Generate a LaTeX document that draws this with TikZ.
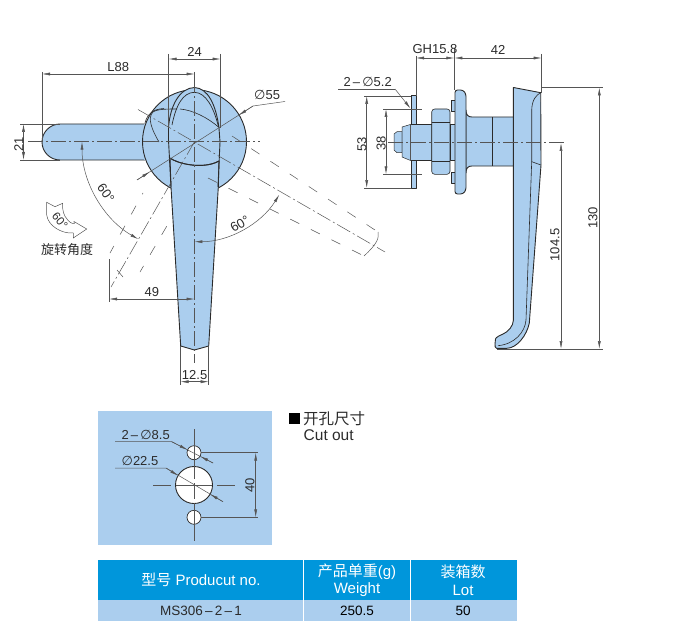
\documentclass[tikz,border=0pt]{standalone}
\usepackage{fontspec}
\setmainfont{Liberation Sans}
\newfontfamily\cjk{Noto Sans CJK SC}
\newfontfamily\symb{DejaVu Sans}
\usetikzlibrary{arrows.meta}
\usetikzlibrary{positioning}
\definecolor{steel}{HTML}{ABCEEE}
\definecolor{tablehead}{HTML}{0096DB}
\definecolor{ink}{HTML}{2B2B2B}
\tikzset{
  >={Latex[length=8pt,width=3pt]},
  outl/.style={draw=ink,line width=0.9pt,line join=round},
  thinln/.style={draw=ink!80,line width=0.5pt},
  cenln/.style={thinln,dash pattern=on 15pt off 3pt on 2pt off 3pt},
  dashln/.style={thinln,dash pattern=on 10pt off 13pt},
  dimln/.style={thinln},
  lab/.style={font=\fontsize{13}{13}\selectfont,text=ink,inner sep=0pt},
  cell/.style={font=\fontsize{15}{17.5}\selectfont,align=center,inner sep=0pt}
}
\begin{document}
\begin{tikzpicture}[x=1pt,y=-1pt]
  \path[use as bounding box] (0, 0) rectangle (700, 631);

  % front view
  \filldraw[outl,fill=steel] (145, 124) -- (60, 124) arc[start angle=270,end angle=90,radius=18] -- (145, 160);
  \fill[steel] (144, 124) rectangle (150, 160);
  \filldraw[outl,fill=steel] (194.5, 141.7) circle (52);
  \filldraw[outl,fill=steel] (170, 158) .. controls (180, 165) and (205, 169) .. (219, 161) -- (218.3, 187)
    -- (208.7, 346) -- (194.4, 350) -- (180.7, 346) -- (171, 187) -- cycle;
  \fill[steel] (168, 128) .. controls (170, 105) and (180, 88) .. (194.4, 87.5)
    .. controls (208, 88) and (217, 105) .. (219.5, 128) -- (219, 161) -- (170, 158) -- cycle;
  \draw[outl] (168.5, 128) .. controls (170, 105) and (180, 88) .. (194.4, 87.5)
    .. controls (208, 88) and (216, 105) .. (219, 128) -- (220, 142) -- (218, 187);
  \draw[outl] (168.5, 128) -- (168.5, 140) -- (171, 187);
  \draw[outl] (170, 158) .. controls (180, 165) and (205, 169) .. (219, 161);
  \draw[outl,line width=0.7pt] (172, 125) .. controls (176, 105) and (183, 92.5) .. (194.4, 92.3)
    .. controls (206, 92.5) and (214, 108) .. (218.5, 127);
  % dome turned away
  \draw[outl,line width=0.6pt] (145, 123) .. controls (147, 115) and (152, 109) .. (164, 108.5);
  \draw[outl,line width=0.6pt] (159, 142) .. controls (152, 130) and (147, 118) .. (153, 112)
    .. controls (157, 109) and (168, 109) .. (177, 109);
  \draw[outl,line width=0.6pt] (180, 109) .. controls (193, 110) and (208, 118) .. (218.5, 127);

  % centre lines
  \draw[cenln] (28, 141.7) -- (260, 141.7);
  \draw[cenln] (194.5, 78) -- (194.5, 363);
  \draw[cenln] (138, 109.5) -- (385, 252);
  \draw[cenln] (194.5, 141.7) -- (111, 287);

  % turned handle, dashed edges
  \draw[dashln,dash phase=0pt] (232, 136) -- (378, 232);
  \draw[dashln] (208, 178) -- (364, 256);
  \draw[dashln,dash phase=2pt] (110, 253) -- (143, 193);
  \draw[dashln,dash phase=3pt] (140, 272) -- (172.7, 216);
  \draw[thinln] (378, 232) .. controls (379, 238) and (378, 243) .. (364, 256);
  \draw[thinln] (117, 270) -- (123, 277);

  % front view dimensions
  \draw[dimln] (42, 72) -- (42, 142);
  \draw[dimln] (168.7, 54) -- (168.7, 128);
  \draw[dimln] (220.7, 54) -- (220.7, 128);
  \draw[dimln] (194.5, 72) -- (194.5, 88);
  \draw[dimln,<->] (42, 74) -- node[lab,above=2pt] (lenlab) {L88} (194.5, 74);
  \draw[dimln,<->] (168.7, 59) -- node[lab,above=2pt] (widlab) {24} (220.7, 59);
  \draw[dimln] (20, 124) -- (60, 124);
  \draw[dimln] (20, 160) -- (60, 160);
  \draw[dimln,<->] (23.5, 124) -- node[lab,rotate=90,anchor=south,xshift=-2pt] (gripla) {21} (23.5, 160);
  \draw[dimln] (137, 180) -- (253, 106) -- (285, 101.5);
  \draw[dimln,->] (137, 180) -- (149.8, 171.8);
  \draw[dimln,->] (253, 106) -- (238.6, 115.3);
  \node[lab,anchor=south west] (circlab) at (254, 99.5) {{\symb∅}55};
  \draw[dimln,<->] (82, 141.7) arc[start angle=180,end angle=120,radius=112.5];
  \draw[dimln,<->] (279.3, 194.7) arc[start angle=32,end angle=90,radius=100];
  \node[lab,rotate=-55] (leftang) at (106, 193) {60°};
  \node[lab,rotate=30] (rightang) at (240, 224) {60°};
  \draw[dimln] (109, 259) -- (109, 302);
  \draw[dimln,<->] (109, 299) -- node[lab,above=2pt] (offlab) {49} (194.5, 299);
  \draw[dimln] (180.5, 346) -- (180.5, 385);
  \draw[dimln] (208.7, 346) -- (208.7, 385);
  \draw[dimln,<->] (180.5, 381.7) -- node[lab,above=2pt] (tiplab) {12.5} (208.7, 381.7);

  % rotation mark
  \draw[thinln] (46.7, 202.3) -- (55, 206.7) -- (62.7, 203.3) .. controls (62, 210) and (64, 216) .. (67, 219)
    .. controls (69, 222) and (72, 224) .. (74.3, 223.5) -- (74, 221.5) -- (86.7, 229) -- (73.3, 238) -- (73.3, 233)
    .. controls (62, 234) and (48, 226) .. (46.7, 215) -- cycle;
  \node[lab,rotate=-50,font=\fontsize{11.5}{12}\selectfont] (marklab) at (60, 221) {60°};
  \node[lab,font=\cjk\fontsize{13}{13}\selectfont] (markcap) at (67, 250) {旋转角度};

  % side view
  \filldraw[outl,fill=steel] (411, 95.7) rectangle (416, 188);
  \filldraw[outl,fill=steel,line width=0.5pt] (394, 134) -- (397, 131.7) -- (402, 131.7) -- (402, 152.7) -- (397, 152.7) -- (394, 150) -- cycle;
  \filldraw[outl,fill=steel,line width=0.5pt] (402, 127) -- (411, 124.3) -- (431.7, 124.3) -- (431.7, 160.7) -- (411, 160.7) -- (402, 157) -- cycle;
  \filldraw[outl,fill=steel,line width=0.6pt,rounded corners=3pt] (431.7, 109) rectangle (450, 174.3);
  \draw[outl,line width=0.6pt] (431.7, 122) -- (450, 122);
  \draw[outl,line width=0.6pt] (431.7, 161.5) -- (450, 161.5);
  \filldraw[outl,fill=steel,line width=0.6pt] (450, 124.3) rectangle (455, 160.7);
  \draw[outl,line width=1.3pt] (411, 124.3) -- (431.7, 124.3);
  \draw[outl,line width=1.3pt] (411, 160.7) -- (431.7, 160.7);
  \draw[thinln] (410.7, 124.3) -- (410.7, 160.7);
  \foreach \rivy in {100.7, 172} {
    \filldraw[outl,fill=steel,line width=0.5pt] (451, \rivy) rectangle +(4, 11);
  }
  \filldraw[outl,fill=steel] (513.4, 117) -- (472, 117) .. controls (468, 117) and (466, 115) .. (466, 110)
    -- (466, 173) .. controls (466, 168) and (468, 166) .. (472, 166) -- (513.4, 166);
  \draw[outl,fill=steel,rounded corners=2.5pt] (455, 90) -- (463, 90) -- (466, 94) -- (466, 190) -- (463, 194) -- (455, 194) -- cycle;
  \draw[thinln,draw=ink] (492.3, 117) -- (492.3, 166);
  \filldraw[outl,fill=steel] (513.4, 87.5) -- (540.7, 92.7) -- (541, 165) -- (529.3, 323)
    .. controls (527, 335) and (517, 348.3) .. (506.7, 348.3) -- (496.5, 348.3) .. controls (495, 348) and (495, 346) .. (495, 344)
    -- (495.5, 339) .. controls (496, 337) and (500, 335.5) .. (503, 334) .. controls (508, 332) and (513.4, 326) .. (513.4, 320) -- cycle;
  \draw[outl,line width=0.6pt] (540.7, 92.7) .. controls (536, 95) and (532, 100) .. (531.7, 110) -- (531.7, 161.7) -- (541, 165);
  \draw[outl,line width=0.6pt] (531.7, 161.7) -- (526, 320) .. controls (525, 332) and (515, 344) .. (498, 345.7);
  \draw[cenln] (388, 142) -- (565, 142);

  % side view dimensions
  \draw[dimln] (416, 56) -- (416, 96);
  \draw[dimln] (454.3, 48) -- (454.3, 90);
  \draw[dimln] (541.7, 54) -- (541.7, 93);
  \draw[dimln,<->] (416, 58) -- (454.3, 58);
  \draw[dimln,<->] (454.3, 58) -- node[lab,above=3pt] (depthb) {42} (541.7, 58);
  \node[lab] (depth) at (435, 49) {GH15.8};
  \draw[dimln] (364, 96) -- (411, 96);
  \draw[dimln] (364, 188) -- (411, 188);
  \draw[dimln,<->] (366.7, 96) -- node[lab,rotate=90,anchor=south,xshift=-2pt] (platel) {53} (366.7, 188);
  \draw[dimln] (383, 109) -- (422, 109);
  \draw[dimln] (383, 174.3) -- (422, 174.3);
  \draw[dimln,<->] (386, 109) -- node[lab,rotate=90,anchor=south,xshift=-2pt] (holelb) {38} (386, 174.3);
  \draw[dimln] (338, 89) -- (395, 89);
  \draw[dimln,->] (395, 89) -- (410.5, 108.5);
  \node[lab,anchor=south] (holecp) at (367.7, 87) {2\,–\,{\symb∅}5.2};
  \draw[dimln] (541, 87.5) -- (603, 87.5);
  \draw[dimln] (497, 349) -- (603, 349);
  \draw[dimln,<->] (561, 143) -- (561, 349);
  \node[lab,rotate=90] (handle) at (555, 245) {104.5};
  \draw[dimln,<->] (599.3, 87.5) -- (599.3, 349);
  \node[lab,rotate=90] (total) at (593, 218) {130};

  % cut out panel
  \fill[steel] (98.3, 410.7) rectangle (271.7, 545);
  \foreach \holey in {452.7, 517.3} {
    \filldraw[outl,fill=white,line width=0.7pt] (194, \holey) circle (7);
  }
  \filldraw[outl,fill=white] (194, 485) circle (18.5);
  \draw[thinln,dash pattern=on 50pt off 4pt on 16pt off 4pt,line width=0.6pt] (194, 429) -- (194, 541);
  \draw[thinln,dash pattern=on 18pt off 5pt on 36pt off 5pt,line width=0.6pt] (153, 485) -- (236, 485);
  \draw[dimln] (201, 452.7) -- (258, 452.7);
  \draw[dimln] (201, 517.3) -- (258, 517.3);
  \draw[dimln,<->] (255.7, 452.7) -- (255.7, 517.3);
  \node[lab,rotate=90] (holegap) at (250, 485) {40};
  \draw[dimln] (115, 441.7) -- (171.7, 441.7) -- (213, 463);
  \draw[dimln,->] (171.7, 441.7) -- (187.5, 449.8);
  \draw[dimln,->] (213, 463) -- (200.3, 456.3);
  \node[lab,anchor=south] (smallh) at (145.7, 439.5) {2\,–\,{\symb∅}8.5};
  \draw[dimln] (115, 468) -- (166, 468) -- (223, 501.7);
  \draw[dimln,->] (166, 468) -- (178, 475.6);
  \draw[dimln,->] (223, 501.7) -- (210, 494.2);
  \node[lab,anchor=south] (bighol) at (140, 466) {{\symb∅}22.5};
  \fill[black] (288.5, 412.5) rectangle (300, 424);
  \node[lab,font=\cjk\fontsize{15.5}{16}\selectfont,anchor=west] (cuttit) at (303, 418.5) {开孔尺寸};
  \node[lab,font=\fontsize{15.5}{16}\selectfont,anchor=west] (cutsub) at (303.5, 435.5) {Cut out};

  % table
  \fill[tablehead] (98, 560) rectangle (516.7, 600);
  \fill[steel] (98, 600) rectangle (516.7, 621);
  \foreach \colx in {303.5, 410} {
    \draw[white,line width=0.7pt] (\colx, 560) -- (\colx, 621);
  }
  \node[cell,text=white] (modelh) at (201, 580) {{\cjk 型号} Producut no.};
  \node[cell,text=white] (weighth) at (357, 580) {{\cjk 产品单重}(g)\\Weight};
  \node[cell,text=white] (loth) at (463, 580) {{\cjk 装箱数}\\Lot};
  \node[cell,text=ink,font=\fontsize{13.5}{14}\selectfont] (model) at (201, 611) {MS306\,–\,2\,–\,1};
  \node[cell,text=black,font=\fontsize{13.5}{14}\selectfont] (weight) at (357, 611) {250.5};
  \node[cell,text=black,font=\fontsize{13.5}{14}\selectfont] (lot) at (463, 611) {50};
\end{tikzpicture}
\end{document}
